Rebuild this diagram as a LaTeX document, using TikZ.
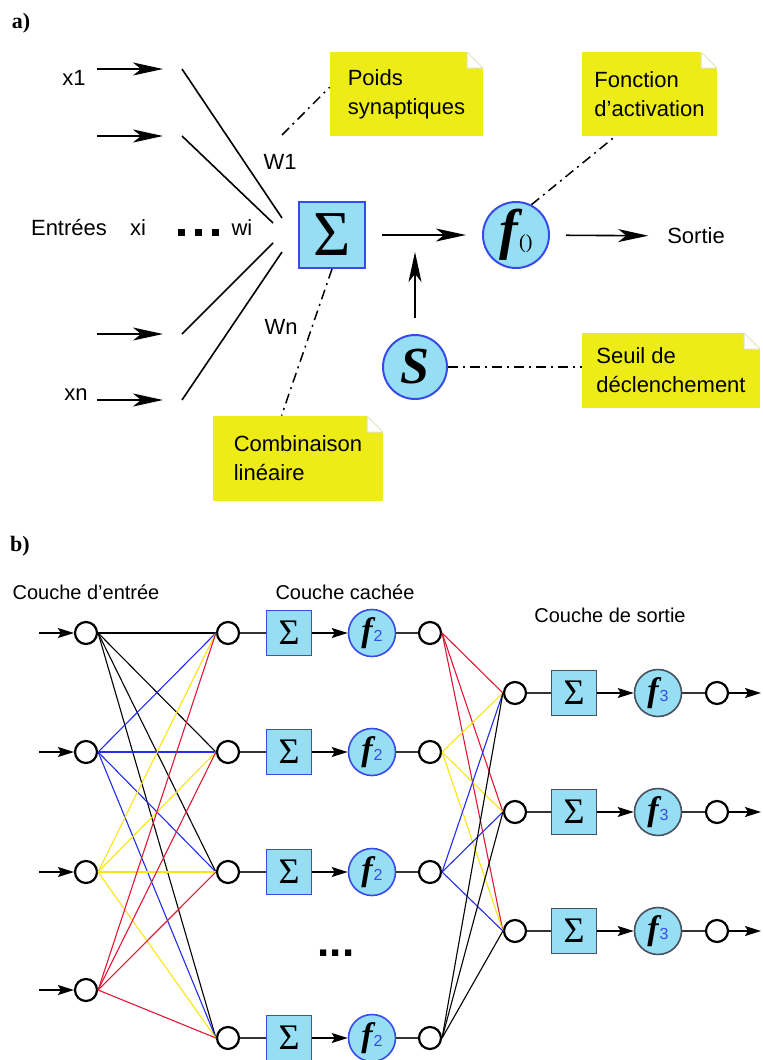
\documentclass[tikz,border=0pt]{standalone}
\usepackage{fontspec}
\setmainfont{Liberation Sans}
\newfontfamily\serifont{Liberation Serif}
\usetikzlibrary{arrows.meta,positioning}

\definecolor{cellcyan}{RGB}{150,222,243}
\definecolor{cellblue}{RGB}{55,75,235}
\definecolor{cellgrey}{RGB}{70,80,95}
\definecolor{noteyellow}{RGB}{238,236,22}
\definecolor{foldgrey}{RGB}{225,225,190}
\definecolor{wyellow}{RGB}{250,228,20}
\definecolor{wred}{RGB}{222,25,55}
\definecolor{wblue}{RGB}{35,45,235}

% bold italic f of an activation, followed by its index
\newcommand{\actf}[2]{{\serifont\bfseries\itshape\fontsize{#1}{#1}\selectfont f}\kern0.5pt#2}

\tikzset{
  neuron/.style={
    every node/.style={font=\fontsize{11}{14.5}\selectfont},
    tag/.style={font=\serifont\bfseries\fontsize{11}{11}\selectfont},
    layer/.style={font=\fontsize{10}{12}\selectfont},
    sum/.style={draw=cellblue,fill=cellcyan,line width=1pt,minimum size=33pt,
        inner sep=0pt,font=\serifont\fontsize{32}{32}\selectfont},
    act/.style={circle,draw=cellblue,fill=cellcyan,line width=1pt,
        minimum size=33pt,inner sep=0pt},
    ssum/.style={draw=cellblue,fill=cellcyan,line width=0.8pt,minimum size=22.5pt,
        inner sep=0pt,font=\serifont\fontsize{18}{18}\selectfont},
    sact/.style={circle,draw=cellblue,fill=cellcyan,line width=0.8pt,
        minimum size=23.5pt,inner sep=0pt},
    cell/.style={circle,draw,fill=white,line width=1.1pt,minimum size=11pt,inner sep=0pt},
    note/.style={
        fill=noteyellow,
        align=left,
        inner sep=0pt,
        path picture={
            \fill[white] (path picture bounding box.north east) rectangle ++(-8pt,-8pt);
            \filldraw[fill=white,draw=foldgrey,line width=0.5pt]
                ([xshift=-8pt]path picture bounding box.north east)
                -- ++(0pt,-8pt) -- ++(8pt,0pt) -- cycle;
        },
    },
    bigarr/.style={-{Stealth[length=15pt,width=6.5pt,inset=4pt]},line width=0.8pt},
    smallarr/.style={-{Stealth[length=8pt,width=5pt,inset=1.5pt]},line width=0.8pt},
    tagline/.style={dash pattern=on 5pt off 2.5pt on 1pt off 2.5pt,line width=0.75pt},
    wire/.style={line width=0.8pt,black!80},
    edge/.style={line width=0.55pt},
  }
}

\begin{document}
\begin{tikzpicture}[x=0.5pt,y=-0.5pt,neuron]
\useasboundingbox (0,0) rectangle (762,1060);

% a) neurone formel
\node[tag] (taga) at (21,23) {a)};

\node[sum] (sigma) at (332,235) {Σ};
\node[act] (fnode) at (516,235) {\actf{28}{{\serifont\fontsize{10}{10}\selectfont()}}};
\node[act,minimum size=32pt] (snode) at (415,367) {{\serifont\bfseries\itshape\fontsize{26}{26}\selectfont S}};
\node (sortie) at (696,236) {Sortie};
\coordinate (sjoin) at (415,252);

\node[note,minimum width=76.5pt,minimum height=42pt] (poids) at (406.5,94) {Poids\\synaptiques};
\node[note,minimum width=67.5pt,minimum height=42pt] (fonction) at (649.5,94) {Fonction\\d’activation};
\node[note,minimum width=89pt,minimum height=37.5pt] (seuil) at (671,370.5) {Seuil de\\déclenchement};
\node[note,minimum width=85pt,minimum height=42.5pt] (comb) at (298,458.5) {Combinaison\\linéaire};

\node (x1) at (74,78) {x1};
\node (xn) at (76,395) {xn};
\node (entrees) at (69,228) {Entrées};
\node (xi) at (138,228) {xi};
\node (wi) at (242,228) {wi};
\node (w1) at (280,162) {W1};
\node (wn) at (281,327) {Wn};
\foreach \k/\x in {1/181,2/198,3/215}
    \node[fill,minimum size=3.5pt,inner sep=0pt] (dot\k) at (\x,232) {};

% entrees et poids
\foreach \n/\y/\ex/\ey in {1/69/282/218,2/136/273/223,3/334/273/243,4/400/282/252} {
    \coordinate (in\n) at (97,\y);
    \coordinate (ine\n) at (163,\y);
    \coordinate (ws\n) at (182,\y);
    \coordinate (we\n) at (\ex,\ey);
    \draw[bigarr] (in\n) -- (ine\n);
    \draw[line width=0.8pt] (ws\n) -- (we\n);
}

\draw[bigarr,shorten <=8pt,shorten >=8pt] (sigma) -- (fnode);
\draw[bigarr,shorten <=8pt,shorten >=6pt] (fnode) -- (sortie);
\draw[bigarr,shorten <=8pt] (snode) -- (sjoin);

\coordinate (w1tag) at (282,135);
\draw[tagline] (w1tag) -- (poids.175);
\draw[tagline] (fnode.63) -- (fonction.231);
\draw[tagline] (sigma.south) -- (comb.111);
\draw[tagline] (snode.east) -- (snode.east -| seuil.west);

% b) perceptron multicouche
\node[tag] (tagb) at (20,546) {b)};
\node[layer] (lin) at (86,592) {Couche d’entrée};
\node[layer] (lhid) at (345,592) {Couche cachée};
\node[layer] (lout) at (610,615) {Couche de sortie};

\foreach \i/\y in {1/633,2/752,3/872,4/990} {
    \node[cell] (ia\i) at (86,\y) {};
    \coordinate (src\i) at (39,\y);
    \draw[smallarr] (src\i) -- (ia\i);
}

\foreach \i/\y in {1/633,2/752,3/872,4/1038} {
    \node[cell] (ha\i) at (228,\y) {};
    \node[ssum] (hs\i) at (289,\y) {Σ};
    \node[sact] (hf\i) at (372,\y) {\actf{17}{{\fontsize{8}{8}\selectfont\color{cellblue}2}}};
    \node[cell] (hb\i) at (430,\y) {};
    \draw[wire] (ha\i) -- (hs\i);
    \draw[smallarr] (hs\i) -- (hf\i);
    \draw[wire] (hf\i) -- (hb\i);
}
\node[font=\bfseries\fontsize{22}{22}\selectfont] (dots) at (336,953) {...};

\foreach \j/\y in {1/693,2/812,3/931} {
    \node[cell] (oa\j) at (515,\y) {};
    \node[ssum,draw=cellgrey] (os\j) at (574,\y) {Σ};
    \node[sact,draw=cellgrey] (of\j) at (658,\y) {\actf{17}{{\fontsize{8}{8}\selectfont\color{cellblue}3}}};
    \node[cell] (ob\j) at (717,\y) {};
    \coordinate (dst\j) at (761,\y);
    \draw[wire] (oa\j) -- (os\j);
    \draw[smallarr] (os\j) -- (of\j);
    \draw[wire] (of\j) -- (ob\j);
    \draw[smallarr] (ob\j) -- (dst\j);
}

% connexions
\foreach \i/\c in {1/black,2/wblue,3/wyellow,4/wred}
    \foreach \j in {1,...,4}
        \draw[edge,\c] (ia\i.east) -- (ha\j.west);
\foreach \i/\c in {1/wred,2/wyellow,3/wblue,4/black}
    \foreach \j in {1,2,3}
        \draw[edge,\c] (hb\i.east) -- (oa\j.west);

\end{tikzpicture}
\end{document}
